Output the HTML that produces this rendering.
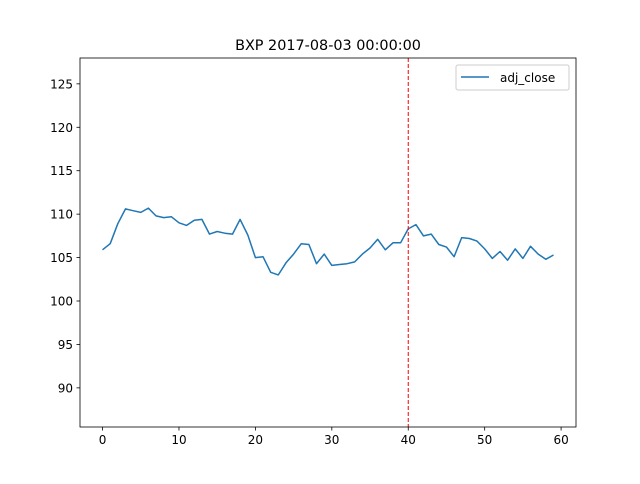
<!DOCTYPE html>
<html><head><meta charset="utf-8"><style>
body{margin:0;background:#fff;font-family:"DejaVu Sans","Liberation Sans",sans-serif}
svg text{font-family:"DejaVu Sans","Liberation Sans",sans-serif;fill:#000}
</style></head><body>
<svg id="chart" width="640" height="480">
<rect width="640" height="480" fill="#fff"/>
<text x="328" y="50" font-size="14.4" text-anchor="middle">BXP 2017-08-03 00:00:00</text>
<g id="ticks"></g>
<path id="line" fill="none" stroke="#1f77b4" stroke-width="1.5" stroke-linejoin="round"/>
<line id="vline" y1="58" y2="427" stroke="red" stroke-width="1" stroke-dasharray="4,2"/>
<rect x="80" y="58" width="496" height="369" fill="none" stroke="#000" stroke-width="0.8"/>
<g>
<rect x="456" y="65" width="113" height="25" rx="2" fill="#fff" stroke="#ccc"/>
<line x1="461" y1="77" x2="489" y2="77" stroke="#1f77b4" stroke-width="1.5"/>
<text x="500" y="82" font-size="12">adj_close</text>
</g>
</svg>
<script>
const values=[105.9,106.6,108.9,110.6,110.4,110.2,110.7,109.8,109.6,109.7,109.0,108.7,109.3,109.4,107.7,108.0,107.8,107.7,109.4,107.6,105.0,105.1,103.3,103.0,104.4,105.4,106.6,106.5,104.3,105.4,104.1,104.2,104.3,104.5,105.4,106.1,107.1,105.9,106.7,106.7,108.3,108.8,107.5,107.7,106.5,106.2,105.1,107.3,107.2,106.9,106.0,104.9,105.7,104.7,106.0,104.9,106.3,105.4,104.8,105.3];
const xTicks=[0,10,20,30,40,50,60];
const yTicks=[90,95,100,105,110,115,120,125];
const markerX=40;
const xs=v=>80+(v+2.95)*496/64.9;
const ys=v=>301-(v-100)*8.686;
const ns="http://www.w3.org/2000/svg";
const g=document.getElementById('ticks');
function mk(t,a){const e=document.createElementNS(ns,t);for(const k in a)e.setAttribute(k,a[k]);g.appendChild(e);return e;}
xTicks.forEach(t=>{const x=xs(t);
const l=mk('line',{x1:x,x2:x,y1:427,y2:430.5,stroke:'#000','stroke-width':0.8});


const tx=mk('text',{x:x,y:444,'font-size':12,'text-anchor':'middle'});tx.textContent=t;

});
yTicks.forEach(t=>{const y=ys(t);
const l=mk('line',{x1:76.5,x2:80,y1:y,y2:y,stroke:'#000','stroke-width':0.8});


const tx=mk('text',{x:73,y:y+4.5,'font-size':12,'text-anchor':'end'});tx.textContent=t;

});
document.getElementById('line').setAttribute('d',values.map((v,i)=>(i?'L':'M')+xs(i).toFixed(1)+','+ys(v).toFixed(1)).join(''));
const vl=document.getElementById('vline');vl.setAttribute('x1',xs(markerX));vl.setAttribute('x2',xs(markerX));
</script>
</body></html>
